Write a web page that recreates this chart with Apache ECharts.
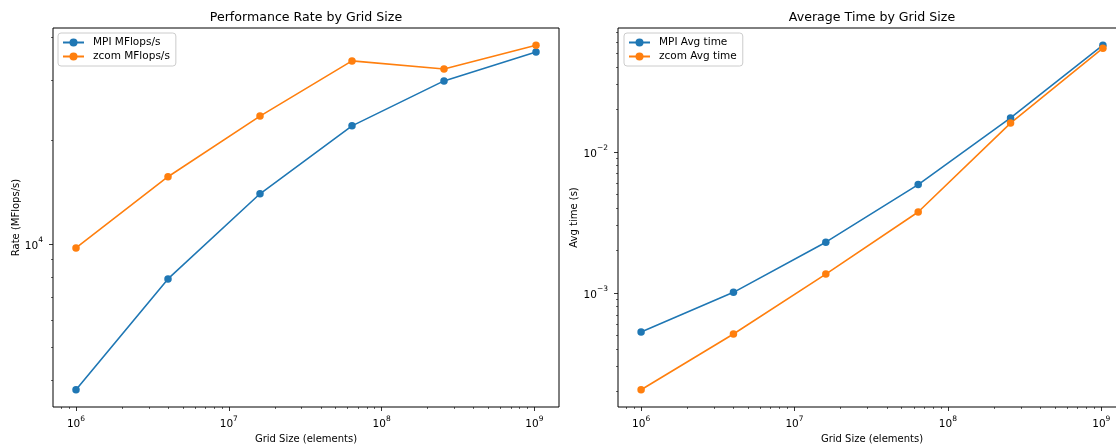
<!DOCTYPE html>
<html>
<head>
<meta charset="utf-8">
<script src="https://cdn.jsdelivr.net/npm/echarts@6/dist/echarts.min.js"></script>
<style>
  html, body { margin: 0; padding: 0; background: #fff; }
  #chart { width: 1116px; height: 445px; }
</style>
</head>
<body>
<div id="chart"></div>
<script>
// grid sizes (elements)
var gridSizes = [1e6, 4e6, 1.6e7, 6.4e7, 2.56e8, 1.024e9];

// MFlops/s
var mpiRate = [3750, 7900, 14000, 22100, 29900, 36300];
var zcomRate = [9730, 15700, 23600, 34200, 32400, 38000];

// avg time (s)
var mpiTime = [0.000529, 0.00101, 0.00229, 0.00586, 0.0174, 0.0570];
var zcomTime = [0.000206, 0.000512, 0.00136, 0.00375, 0.0160, 0.0543];

// labelled ticks
var xMajor = [1e6, 1e7, 1e8, 1e9];
var rateMajor = [1e4];
var timeMajor = [1e-3, 1e-2];

var FONT = 'DejaVu Sans';
var BLUE = '#1f77b4';
var ORANGE = '#ff7f0e';

// matplotlib style 5% padding in log space
function logExtent(arrs) {
    var all = [].concat.apply([], arrs);
    var lo = Math.log10(Math.min.apply(null, all));
    var hi = Math.log10(Math.max.apply(null, all));
    var pad = (hi - lo) * 0.05;
    return [Math.pow(10, lo - pad), Math.pow(10, hi + pad)];
}

function minorTicks(ext) {
    var out = [];
    var e0 = Math.floor(Math.log10(ext[0]));
    var e1 = Math.ceil(Math.log10(ext[1]));
    for (var e = e0; e <= e1; e++) {
        for (var k = 2; k <= 9; k++) {
            var v = k * Math.pow(10, e);
            if (v >= ext[0] && v <= ext[1]) out.push(v);
        }
    }
    return out;
}

function powLabel(v) {
    var e = Math.round(Math.log10(v));
    var s = e < 0 ? '\u2212' + (-e) : '' + e;
    return '{b|10}{s|' + s + '}';
}

var richSup = {
    b: { fontSize: 10.5, fontFamily: FONT, color: '#000', lineHeight: 15, verticalAlign: 'bottom' },
    s: { fontSize: 7.5, fontFamily: FONT, color: '#000', verticalAlign: 'top' }
};

var xExt = logExtent([gridSizes]);
var rateExt = logExtent([mpiRate, zcomRate]);
var timeExt = logExtent([mpiTime, zcomTime]);

function mainAxis(gridIndex, ext, major, name, gap, isY) {
    return {
        type: 'log',
        gridIndex: gridIndex,
        min: ext[0],
        max: ext[1],
        name: name,
        nameLocation: 'middle',
        nameGap: gap,
        nameTextStyle: { fontFamily: FONT, fontSize: 10, color: '#000' },
        axisLine: { show: false },
        axisTick: { show: true, length: 4, customValues: major, lineStyle: { color: '#000', width: 0.8 } },
        axisLabel: {
            customValues: major,
            margin: isY ? 10 : 8,
            formatter: powLabel,
            rich: richSup
        },
        splitLine: { show: false }
    };
}

function minorAxis(gridIndex, ext) {
    return {
        type: 'log',
        gridIndex: gridIndex,
        min: ext[0],
        max: ext[1],
        axisLine: { show: false },
        axisTick: { show: true, length: 2, customValues: minorTicks(ext), lineStyle: { color: '#000', width: 0.6 } },
        axisLabel: { show: false },
        splitLine: { show: false }
    };
}

function lineSeries(name, xi, ys, color, yVals) {
    return {
        name: name,
        type: 'line',
        xAxisIndex: xi,
        yAxisIndex: ys,
        data: gridSizes.map(function (x, i) { return [x, yVals[i]]; }),
        symbol: 'circle',
        symbolSize: 7.5,
        itemStyle: { color: color },
        lineStyle: { color: color, width: 1.6 },
        animation: false
    };
}

function legendBox(left, names) {
    return {
        orient: 'vertical',
        left: left,
        top: 33,
        data: names,
        padding: [4, 6, 4, 4],
        itemGap: 3,
        itemWidth: 21,
        itemHeight: 10,
        backgroundColor: 'rgba(255,255,255,0.8)',
        borderColor: '#cccccc',
        borderWidth: 1,
        borderRadius: 3,
        textStyle: { fontFamily: FONT, fontSize: 10.5, color: '#000', padding: [0, 0, 0, 4] }
    };
}

function panel(left, width, border) {
    var g = { left: left, top: 28, width: width, height: 379, outerBoundsMode: 'none', containLabel: false };
    if (border) {
        g.show = true;
        g.borderColor = '#000';
        g.borderWidth = 1;
    }
    return g;
}

var myCharts = echarts.init(document.getElementById('chart'));

var option = {
    animation: false,
    title: [
        { text: 'Performance Rate by Grid Size', left: 306, top: 11, textAlign: 'center', padding: 0,
          textStyle: { fontFamily: FONT, fontSize: 12.6, fontWeight: 'normal', color: '#000' } },
        { text: 'Average Time by Grid Size', left: 872, top: 11, textAlign: 'center', padding: 0,
          textStyle: { fontFamily: FONT, fontSize: 12.6, fontWeight: 'normal', color: '#000' } }
    ],
    legend: [
        legendBox(58, ['MPI MFlops/s', 'zcom MFlops/s']),
        legendBox(624, ['MPI Avg time', 'zcom Avg time'])
    ],
    grid: [
        panel(53, 506, true),
        panel(53, 506, false),
        panel(618, 508, true),
        panel(618, 508, false)
    ],
    xAxis: [
        mainAxis(0, xExt, xMajor, 'Grid Size (elements)', 25, false),
        minorAxis(1, xExt),
        mainAxis(2, xExt, xMajor, 'Grid Size (elements)', 25, false),
        minorAxis(3, xExt)
    ],
    yAxis: [
        mainAxis(0, rateExt, rateMajor, 'Rate (MFlops/s)', 32, true),
        minorAxis(1, rateExt),
        mainAxis(2, timeExt, timeMajor, 'Avg time (s)', 38, true),
        minorAxis(3, timeExt)
    ],
    series: [
        lineSeries('MPI MFlops/s', 0, 0, BLUE, mpiRate),
        lineSeries('zcom MFlops/s', 0, 0, ORANGE, zcomRate),
        lineSeries('MPI Avg time', 2, 2, BLUE, mpiTime),
        lineSeries('zcom Avg time', 2, 2, ORANGE, zcomTime)
    ]
};

myCharts.setOption(option);

window.addEventListener('resize', function () {
    myCharts.resize();
});
</script>
</body>
</html>
